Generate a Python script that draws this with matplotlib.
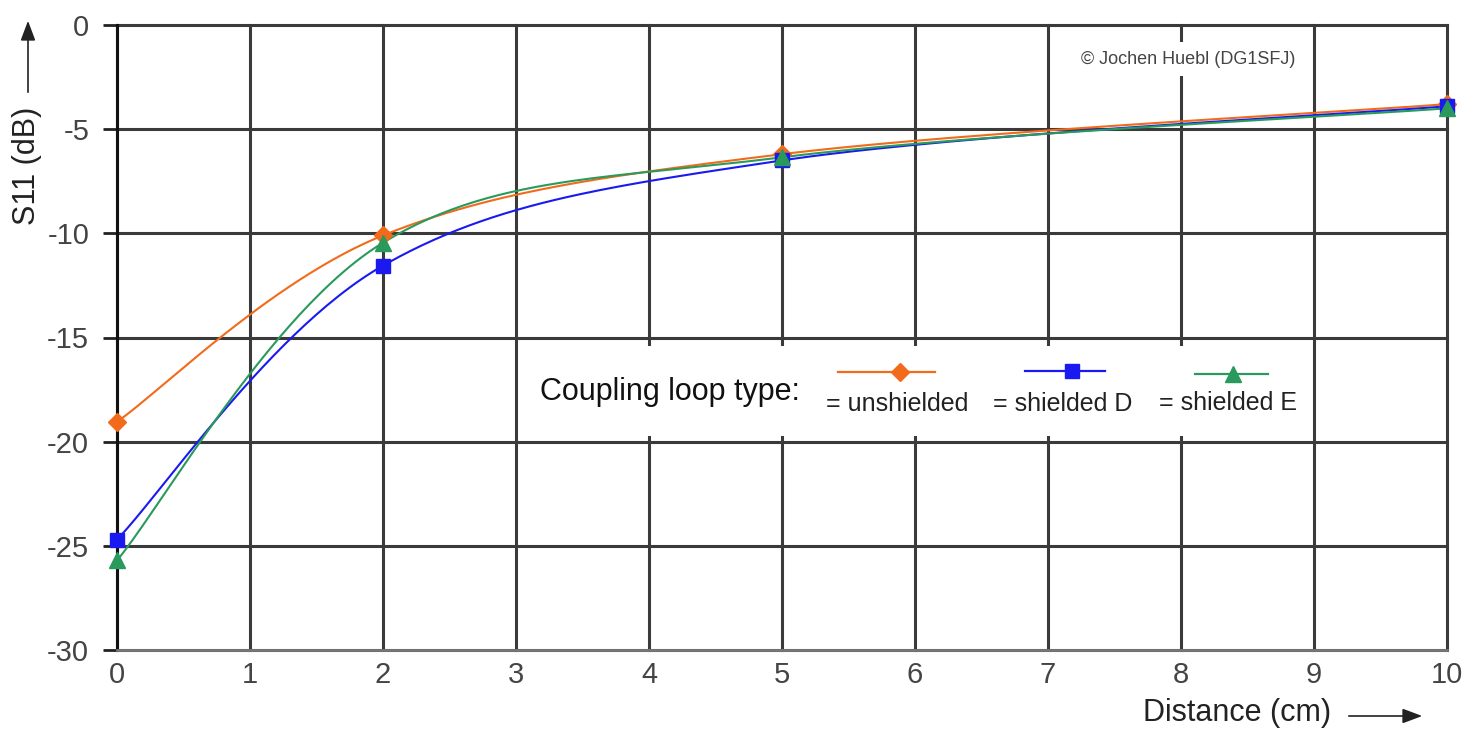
import numpy as np
import matplotlib
matplotlib.use("Agg")
import matplotlib.pyplot as plt
from matplotlib.patches import Rectangle, FancyArrowPatch

plt.rcParams["axes.unicode_minus"] = False

# ---- data ----
distance = [0, 2, 5, 10]
s11_unshielded = [-19.05, -10.1, -6.2, -3.8]
s11_shielded_d = [-24.7, -11.55, -6.5, -3.9]
s11_shielded_e = [-25.7, -10.45, -6.35, -4.0]
series_labels = ["= unshielded", "= shielded D", "= shielded E"]
x_ticks = list(range(0, 11))
y_ticks = [0, -5, -10, -15, -20, -25, -30]

W, H, DPI = 1474, 730, 100
fig = plt.figure(figsize=(W / DPI, H / DPI), dpi=DPI)
L, R, T, B = 117, 1447, 25, 650
ax = fig.add_axes([L / W, 1 - B / H, (R - L) / W, (B - T) / H])
ax.set_xlim(0, 10)
ax.set_ylim(-30, 0)

NARROW = ["Liberation Sans Narrow", "Liberation Sans", "DejaVu Sans"]
SANS = ["Liberation Sans", "DejaVu Sans"]

# grid
ax.set_xticks(x_ticks)
ax.set_yticks(y_ticks)
ax.grid(True, color="#3a3a3a", linewidth=2.2, zorder=1)
ax.set_axisbelow(True)
for gl in ax.get_xgridlines() + ax.get_ygridlines():
    gl.set_clip_on(False)
for s in ["top", "right"]:
    ax.spines[s].set_visible(False)
ax.spines["left"].set_color("#111111")
ax.spines["left"].set_linewidth(2.2)
ax.spines["bottom"].set_color("#777777")
ax.spines["bottom"].set_linewidth(2.0)
ax.tick_params(axis="y", length=10, width=2, color="#222222", pad=10,
               labelsize=21, labelcolor="#444444")
ax.tick_params(axis="x", length=0, pad=8, labelsize=21, labelcolor="#444444")
for lab in ax.get_xticklabels() + ax.get_yticklabels():
    lab.set_family(NARROW)


def excel_smooth(xs, ys, n=60):
    # Catmull-Rom style Bezier smoothing in screen space (like Excel smoothed lines)
    sx = (R - L) / 10.0
    sy = (B - T) / 30.0
    P = np.column_stack([np.asarray(xs, float) * sx, np.asarray(ys, float) * sy])
    m = len(P)
    out = []
    t = np.linspace(0, 1, n)[:, None]
    for i in range(m - 1):
        p0 = P[i - 1] if i > 0 else P[i]
        p1 = P[i]
        p2 = P[i + 1]
        p3 = P[i + 2] if i + 2 < m else P[i + 1]
        c1 = p1 + (p2 - p0) / 6.0
        c2 = p2 - (p3 - p1) / 6.0
        seg = ((1 - t) ** 3) * p1 + 3 * ((1 - t) ** 2) * t * c1 + 3 * (1 - t) * t ** 2 * c2 + t ** 3 * p2
        out.append(seg if i == 0 else seg[1:])
    pts = np.vstack(out)
    return pts[:, 0] / sx, pts[:, 1] / sy


colors = ["#F26A1B", "#1A1AF0", "#2A9A5C"]
markers = ["D", "s", "^"]
msizes = [9, 10, 11]
series = [s11_unshielded, s11_shielded_d, s11_shielded_e]
for ys, c, mk, ms in zip(series, colors, markers, msizes):
    sxs, sys_ = excel_smooth(distance, ys)
    ax.plot(sxs, sys_, color=c, linewidth=1.5, zorder=3, clip_on=False)
    ax.plot(distance, ys, linestyle="none", marker=mk, markersize=ms, color=c,
            markeredgecolor=c, zorder=4, clip_on=False)


def px2ax(x, y):
    return (x - L) / (R - L), (B - y) / (B - T)


# legend box (white area covering grid)
x0, y0 = px2ax(519, 436)
x1, y1 = px2ax(1311, 346)
ax.add_patch(Rectangle((x0, y0), x1 - x0, y1 - y0, transform=ax.transAxes,
                       facecolor="white", edgecolor="none", zorder=2))

ax.text(*px2ax(670, 392), "Coupling loop type:", transform=ax.transAxes,
        ha="center", va="center", fontsize=22, family=SANS, color="#111111", zorder=5)

leg_lines = [(838, 935, 900, 372), (1025, 1105, 1072, 371), (1195, 1268, 1233, 374)]
label_pos = [(897, 404), (1063, 404), (1228, 403)]
for (xa, xb, xm, yl), c, mk, ms, lab, (lx, ly) in zip(leg_lines, colors, markers, msizes,
                                                      series_labels, label_pos):
    pa = px2ax(xa, yl)
    pb = px2ax(xb, yl)
    pm = px2ax(xm, yl)
    ax.plot([pa[0], pb[0]], [pa[1], pb[1]], color=c, linewidth=1.6,
            transform=ax.transAxes, zorder=5)
    ax.plot([pm[0]], [pm[1]], marker=mk, markersize=ms, color=c,
            transform=ax.transAxes, zorder=6, linestyle="none")
    ax.text(*px2ax(lx, ly), lab, transform=ax.transAxes, ha="center", va="center",
            fontsize=18, family=NARROW, color="#222222", zorder=6)

# copyright
ax.text(*px2ax(1188, 59), "\u00a9 Jochen Huebl (DG1SFJ)", transform=ax.transAxes,
        ha="center", va="center", fontsize=13, family=SANS, color="#444444", zorder=5,
        bbox=dict(facecolor="white", edgecolor="none", pad=6))

# axis labels with arrows
fig.text(27 / W, 1 - 166 / H, "S11 (dB)", rotation=90, ha="center", va="center",
         fontsize=22, family=SANS, color="#222222")
fig.text(1237 / W, 1 - 713 / H, "Distance (cm)", ha="center", va="center",
         fontsize=22, family=SANS, color="#222222")
fig.patches.append(FancyArrowPatch(
    (28 / W, 1 - 95 / H), (28 / W, 1 - 18 / H), transform=fig.transFigure,
    arrowstyle="-|>,head_length=8,head_width=3", mutation_scale=1.5,
    color="#222222", linewidth=1.2))
fig.patches.append(FancyArrowPatch(
    (1346 / W, 1 - 716 / H), (1425 / W, 1 - 716 / H), transform=fig.transFigure,
    arrowstyle="-|>,head_length=8,head_width=3", mutation_scale=1.5,
    color="#222222", linewidth=1.2))

fig.savefig("out.png", dpi=DPI, facecolor="white")
